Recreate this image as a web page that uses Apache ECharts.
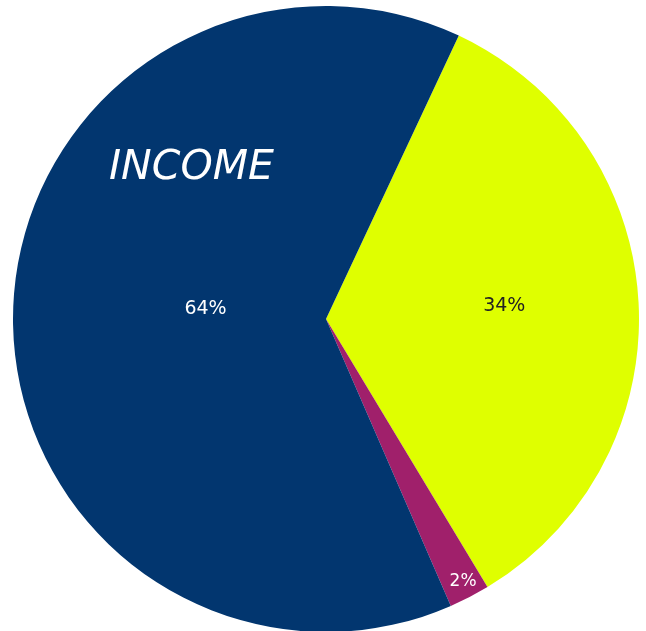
<!DOCTYPE html>
<html>
<head>
<meta charset="utf-8">
<script src="https://cdn.jsdelivr.net/npm/echarts@6/dist/echarts.min.js"></script>
<style>html,body{margin:0;padding:0;background:#fff}#c{width:646px;height:631px}</style>
</head>
<body>
<div id="c"></div>
<script>
const categories = ['Yellow', 'Purple', 'Income'];
const values = [34.4, 2.1, 63.5];
const colors = ['#DFFF00', '#A0206B', '#02366F'];
const labelColors = ['#222222', '#ffffff', '#ffffff'];
const labelOffsets = [[19, -5], [64, 121], [39, -8]];

const chart = echarts.init(document.getElementById('c'), null, {renderer: 'canvas'});
chart.setOption({
  animation: false,
  title: {
    text: 'INCOME',
    left: 104,
    top: 143,
    textStyle: {color: '#ffffff', fontStyle: 'italic', fontWeight: 200, fontSize: 41, fontFamily: 'DejaVu Sans'}
  },
  series: [{
    type: 'pie',
    center: [326, 319],
    radius: 313,
    startAngle: 64.9,
    clockwise: true,
    label: {position: 'inside', formatter: p => Math.round(p.value) + '%', fontSize: 19, fontFamily: 'DejaVu Sans'},
    labelLine: {show: false},
    itemStyle: {borderWidth: 0},
    emphasis: {disabled: true},
    data: categories.map((n, i) => ({
      name: n,
      value: values[i],
      itemStyle: {color: colors[i]},
      label: {color: labelColors[i], offset: labelOffsets[i], fontSize: i === 1 ? 17 : 19}
    }))
  }]
});
</script>
</body>
</html>
